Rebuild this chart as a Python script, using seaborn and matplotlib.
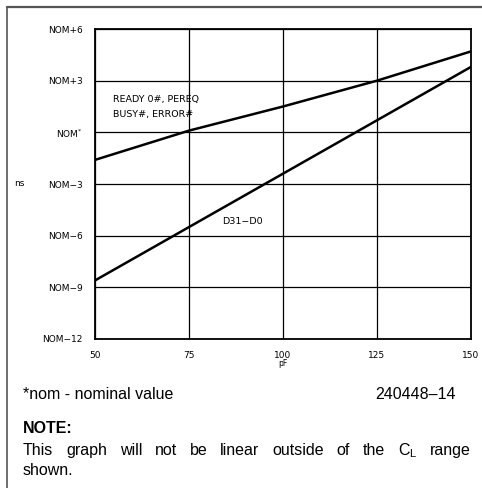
# Output delay vs. load capacitance chart
import numpy as np
import pandas as pd
import seaborn as sns
import matplotlib.pyplot as plt
from matplotlib.lines import Line2D

# Values
load_pf = [50, 75, 100, 125, 150]
ready_busy_ns = [-1.6, 0.1, 1.5, 3.0, 4.7]
data_bus_ns = [-8.6, -5.5, -2.4, 0.7, 3.8]

y_ticks = [-12, -9, -6, -3, 0, 3, 6]
y_tick_labels = ["NOM\u221212", "NOM\u22129", "NOM\u22126", "NOM\u22123",
                 "NOM$^{*}$", "NOM+3", "NOM+6"]
x_ticks = [50, 75, 100, 125, 150]

# Build a long table for seaborn
df = pd.DataFrame({
    "pF": load_pf * 2,
    "ns": ready_busy_ns + data_bus_ns,
    "signal": ["ready"] * len(load_pf) + ["data"] * len(load_pf),
})

sns.set_theme(style="white")
plt.rcParams["font.family"] = ["DejaVu Sans"]
plt.rcParams["text.color"] = "black"

W, H = 482, 488
fig = plt.figure(figsize=(W / 100, H / 100), dpi=100)
ax = fig.add_axes([95 / W, 1 - 339 / H, 376 / W, 310 / H])

sns.lineplot(
    data=df,
    x="pF",
    y="ns",
    hue="signal",
    palette={"ready": "black", "data": "black"},
    linewidth=1.8,
    legend=False,
    ax=ax
)

# Grid and frame
ax.set_xlim(50, 150)
ax.set_ylim(-12, 6)
ax.set_xticks(x_ticks)
ax.set_yticks(y_ticks)
ax.set_yticklabels(y_tick_labels)
ax.grid(True, color="black", linewidth=0.9)
for spine in ax.spines.values():
    spine.set_color("black")
    spine.set_linewidth(1.3)
ax.tick_params(axis="both", length=0, labelsize=6.5, colors="black", labelcolor="black")
ax.tick_params(axis="x", pad=9)
ax.tick_params(axis="y", pad=9)

ax.set_xlabel("")
ax.set_ylabel("")
fig.text(14 / W, 1 - 184 / H, "ns", fontsize=6.5, va="center", color="black")
fig.text(283 / W, 1 - 364 / H, "pF", fontsize=5.5, ha="center", va="center", color="black")

# Curve labels
ax.text(54.8, 1.9, "READY 0#, PEREQ", fontsize=6.8, va="center", color="black")
ax.text(54.8, 1.05, "BUSY#, ERROR#", fontsize=6.8, va="center", color="black")
ax.text(83.8, -5.2, "D31\u2212D0", fontsize=6.8, va="center", color="black")

# Page frame (left and top edge)
fig.add_artist(Line2D([7 / W, 7 / W], [0, 1 - 7 / H], color="#555555", linewidth=1.2))
fig.add_artist(Line2D([7 / W, 1], [1 - 7 / H, 1 - 7 / H], color="#555555", linewidth=1.6))

# Footnotes
note_font = ["Liberation Sans", "DejaVu Sans"]
note_size = 11.5
fig.text(23 / W, 1 - 399 / H, "*nom - nominal value", fontsize=note_size, va="baseline", family=note_font, color="black")
fig.text(456 / W, 1 - 399 / H, "240448\u201314", fontsize=note_size, va="baseline", ha="right", family=note_font, color="black")
fig.text(23 / W, 1 - 433 / H, "NOTE:", fontsize=note_size, fontweight="bold", va="baseline", family=note_font, color="black")

# Justified note line
words = ["This", "graph", "will", "not", "be", "linear", "outside", "of", "the", "C$_\\mathregular{L}$", "range"]
fig.canvas.draw()
renderer = fig.canvas.get_renderer()
word_texts = [fig.text(0, 1 - 455 / H, w, fontsize=note_size, va="baseline", family=note_font, color="black") for w in words]
widths = [t.get_window_extent(renderer).width for t in word_texts]
left_px, right_px = 23, 471
gap = (right_px - left_px - sum(widths)) / (len(words) - 1)
x_px = left_px
for t, w in zip(word_texts, widths):
    t.set_x(x_px / W)
    x_px += w + gap
fig.text(23 / W, 1 - 475 / H, "shown.", fontsize=note_size, va="baseline", family=note_font, color="black")

fig.savefig("out.png", dpi=100)
